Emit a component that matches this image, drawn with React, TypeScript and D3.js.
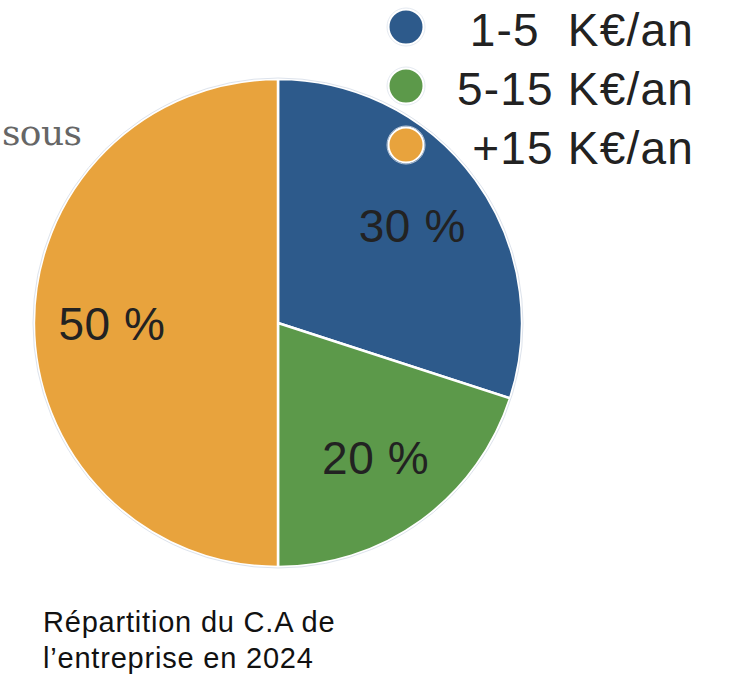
import React, { useEffect, useRef } from 'react';
import * as d3 from 'd3';

const WIDTH = 739;
const HEIGHT = 678;

// tranches de C.A et parts
const categories = ['1-5  K€/an', '5-15 K€/an', '+15 K€/an'];
const values = [30, 20, 50];
const colors = ['#2d5a8b', '#5c994a', '#e8a33d'];
const captionLines = ['Répartition du C.A de', 'l’entreprise en 2024'];

const CX = 278;
const CY = 323;
const R = 244;

export default function App() {
    const svgRef = useRef<SVGSVGElement>(null);

    useEffect(() => {
        if (!svgRef.current) return;
        const svg = d3.select(svgRef.current);
        svg.selectAll('*').remove();

        const pie = d3.pie<number>().sort(null).value(d => d);
        const arcs = pie(values);
        const arc = d3.arc<d3.PieArcDatum<number>>().innerRadius(0).outerRadius(R);
        const labelArc = d3.arc<d3.PieArcDatum<number>>().innerRadius(166).outerRadius(166);

        // texte tronqué à gauche
        svg.append('text')
            .attr('x', 2)
            .attr('y', 145)
            .text('sous')
            .style('font-family', '"DejaVu Serif", serif')
            .style('font-size', '36px')
            .style('letter-spacing', '-0.6px')
            .style('fill', '#666');

        const g = svg.append('g').attr('transform', `translate(${CX},${CY})`);

        g.selectAll('path.slice').data(arcs).enter()
            .append('path')
            .attr('class', 'slice')
            .attr('d', arc)
            .attr('fill', (d, i) => colors[i])
            .attr('stroke', '#fff')
            .attr('stroke-width', 2.5);

        g.append('circle')
            .attr('r', R + 1)
            .attr('fill', 'none')
            .attr('stroke', '#dde3ec')
            .attr('stroke-width', 1);

        g.selectAll('text.pct').data(arcs).enter()
            .append('text')
            .attr('class', 'pct')
            .attr('transform', d => `translate(${labelArc.centroid(d)})`)
            .attr('text-anchor', 'middle')
            .attr('dy', '0.36em')
            .text(d => `${d.data} %`)
            .style('font-family', '"Liberation Sans", Arial, sans-serif')
            .style('font-size', '46px')
            .style('letter-spacing', '0.6px')
            .style('fill', '#222');

        // légende
        const y = d3.scalePoint<string>().domain(categories).range([27, 145]);
        const legend = svg.append('g');
        const items = legend.selectAll('g').data(categories).enter().append('g')
            .attr('transform', d => `translate(0,${y(d)})`);

        items.append('circle')
            .attr('cx', 406)
            .attr('r', 17.5)
            .attr('fill', (d, i) => colors[i])
            .attr('stroke', '#fff')
            .attr('stroke-width', 2);

        items.append('circle')
            .attr('cx', 406)
            .attr('r', 19)
            .attr('fill', 'none')
            .attr('stroke', '#dde3ec')
            .attr('stroke-width', 0.8);

        items.append('text')
            .attr('x', 694)
            .attr('y', 19)
            .attr('text-anchor', 'end')
            .text(d => d)
            .style('white-space', 'pre')
            .style('font-family', '"Liberation Sans", Arial, sans-serif')
            .style('font-size', '46px')
            .style('letter-spacing', '1.2px')
            .style('fill', '#222');

        svg.append('text')
            .attr('x', 43)
            .attr('y', 632)
            .style('font-family', '"Liberation Sans", Arial, sans-serif')
            .style('font-size', '29px')
            .style('letter-spacing', '0.8px')
            .style('fill', '#111')
            .selectAll('tspan').data(captionLines).enter()
            .append('tspan')
            .attr('x', 43)
            .attr('dy', (d, i) => (i === 0 ? 0 : 36))
            .text(d => d);
    }, []);

    return (
        <svg
            ref={svgRef}
            width={WIDTH}
            height={HEIGHT}
            style={{ position: 'absolute', left: 0, top: 0, background: '#fff' }}
        />
    );
}
